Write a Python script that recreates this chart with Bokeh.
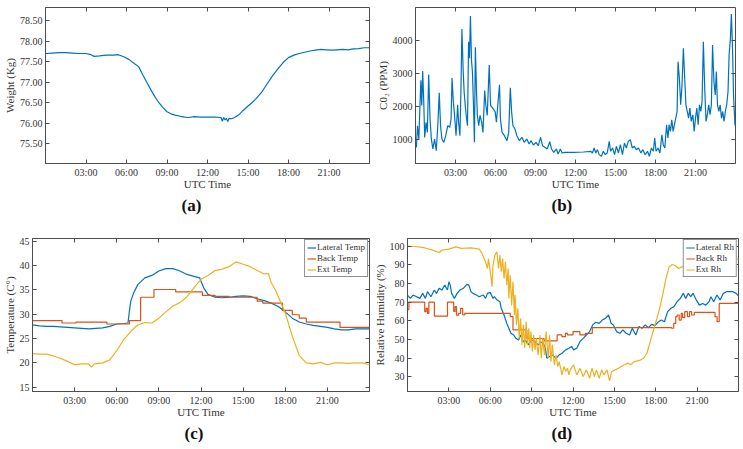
from bokeh.plotting import figure
from bokeh.models import (FixedTicker, Range1d, Title, Legend, LegendItem, NumeralTickFormatter,
                          LinearAxis, CustomJSTickFormatter)
from bokeh.layouts import column, row
from bokeh.embed import file_html
from bokeh.resources import INLINE

FONT = "Liberation Serif"
TXT = "#333333"
EDGE = "#4d4d4d"
BLUE = "#0072BD"
RED = "#D95319"
YEL = "#EDB120"

hour_ticks = [3, 6, 9, 12, 15, 18, 21]
hour_labels = ["03:00", "06:00", "09:00", "12:00", "15:00", "18:00", "21:00"]

# (a) weight
w_h = [0, 0.5, 1, 1.5, 2, 2.5, 3, 3.3, 3.6, 4,
       4.5, 5, 5.4, 5.8, 6.2, 6.6, 6.9, 7.2, 7.5, 7.8,
       8.1, 8.4, 8.7, 9.0, 9.3, 9.6, 10, 10.3, 10.6, 11,
       11.5, 12, 12.5, 13.0, 13.1, 13.2, 13.3, 13.4, 13.5, 13.6,
       13.8, 14.0, 14.3, 14.6, 15, 15.3, 15.6, 16, 16.4, 16.8,
       17.2, 17.6, 18, 18.4, 18.8, 19.2, 19.6, 20, 20.4, 20.8,
       21.2, 21.6, 22, 22.4, 22.8, 23.2, 23.6, 24]
w_v = [77.70, 77.71, 77.72, 77.72, 77.71, 77.70, 77.70, 77.68, 77.63, 77.64,
       77.66, 77.66, 77.67, 77.62, 77.55, 77.45, 77.38, 77.18, 77.00, 76.82,
       76.65, 76.50, 76.38, 76.28, 76.23, 76.20, 76.17, 76.15, 76.14, 76.16,
       76.15, 76.15, 76.15, 76.14, 76.05, 76.14, 76.08, 76.12, 76.04, 76.12,
       76.11, 76.14, 76.20, 76.30, 76.42, 76.50, 76.60, 76.75, 76.95, 77.15,
       77.32, 77.48, 77.60, 77.66, 77.70, 77.73, 77.76, 77.78, 77.80, 77.79,
       77.78, 77.79, 77.80, 77.79, 77.81, 77.82, 77.84, 77.84]

# (b) CO2
co2_h = [0.0, 0.07, 0.15, 0.25, 0.4, 0.47, 0.54, 0.62, 0.69, 0.79,
         0.89, 0.99, 1.09, 1.19, 1.3, 1.43, 1.56, 1.68, 1.78, 1.88,
         1.98, 2.12, 2.27, 2.42, 2.57, 2.67, 2.74, 2.84, 2.91, 3.04,
         3.16, 3.23, 3.33, 3.41, 3.48, 3.58, 3.65, 3.73, 3.83, 3.9,
         3.98, 4.05, 4.12, 4.2, 4.27, 4.35, 4.42, 4.49, 4.57, 4.64,
         4.74, 4.84, 4.96, 5.06, 5.19, 5.28, 5.38, 5.53, 5.63, 5.73,
         5.83, 5.98, 6.07, 6.17, 6.3, 6.37, 6.49, 6.67, 6.86, 6.99,
         7.11, 7.21, 7.31, 7.46, 7.6, 7.8, 7.98, 8.15, 8.35, 8.52,
         8.67, 8.84, 9.04, 9.21, 9.38, 9.53, 9.7, 9.88, 10.07, 10.2,
         10.37, 10.57, 10.69, 10.86, 11.0, 11.2, 11.9, 12.6, 13.15, 13.27,
         13.4, 13.52, 13.64, 13.77, 13.94, 14.09, 14.23, 14.38, 14.53, 14.63,
         14.78, 14.93, 15.07, 15.22, 15.37, 15.52, 15.67, 15.81, 15.96, 16.11,
         16.26, 16.41, 16.56, 16.73, 16.9, 17.05, 17.22, 17.4, 17.54, 17.69,
         17.84, 17.94, 18.04, 18.19, 18.33, 18.48, 18.58, 18.7, 18.83, 18.93,
         19.02, 19.12, 19.22, 19.32, 19.42, 19.52, 19.62, 19.69, 19.79, 19.89,
         19.99, 20.09, 20.19, 20.28, 20.38, 20.48, 20.58, 20.68, 20.8, 20.9,
         21.0, 21.1, 21.2, 21.3, 21.4, 21.49, 21.59, 21.69, 21.79, 21.89,
         21.99, 22.09, 22.19, 22.28, 22.38, 22.48, 22.56, 22.65, 22.75, 22.85,
         22.95, 23.04, 23.14, 23.24, 23.34, 23.44, 23.52, 23.62, 23.69, 23.77,
         23.86, 23.96, 24.0]
co2_v = [800, 770, 1420, 1020, 2790, 2030, 3070, 2130, 1070, 1520,
         1220, 2960, 1630, 1020, 720, 1020, 670, 1480, 2410, 1420,
         1020, 920, 1120, 1420, 1370, 1630, 2860, 2130, 1830, 1120,
         2050, 1530, 1120, 2530, 4330, 3040, 2430, 2030, 1630, 1420,
         3950, 3450, 4720, 3400, 3040, 2030, 920, 3780, 2530, 1730,
         1420, 1730, 1530, 1220, 2480, 2030, 1730, 3250, 2030, 1980,
         1930, 1830, 1530, 2030, 2650, 1630, 1220, 1120, 970, 1220,
         2560, 1830, 1420, 1320, 1120, 970, 1070, 920, 1020, 870,
         970, 840, 920, 820, 1070, 820, 770, 720, 940, 720,
         620, 720, 570, 720, 600, 620, 620, 630, 650, 600,
         750, 600, 700, 550, 500, 650, 550, 600, 950, 650,
         750, 550, 800, 600, 850, 550, 900, 750, 950, 1000,
         750, 800, 700, 750, 600, 700, 550, 650, 500, 750,
         650, 1050, 650, 750, 600, 1150, 850, 750, 1450, 1050,
         1450, 1250, 1600, 1250, 1450, 1650, 1850, 3350, 2850, 2050,
         2650, 3750, 2850, 2050, 1850, 1650, 1950, 1550, 1750, 1250,
         1650, 1950, 1450, 2050, 1850, 2150, 3950, 2550, 1550, 1750,
         2050, 1750, 2050, 3850, 2750, 2350, 3050, 2050, 1850, 2050,
         1650, 1850, 1550, 1850, 2050, 2450, 3550, 4050, 4780, 3850,
         2250, 1450, 1400]

# (c) temperatures
lat_t_h = [0, 0.5, 1, 1.5, 2, 2.5, 3, 3.5, 4, 4.5, 5, 5.5, 6,
           6.5, 6.8, 6.9, 7.0, 7.2, 7.5,
           8.0, 8.5, 9.0, 9.5, 10.0, 10.5, 11.0, 11.5, 11.9,
           12.2, 12.5, 13.0, 13.5, 14.0, 14.5, 15.0, 15.5, 16.0, 16.5, 17.0, 17.5, 18.0,
           18.5, 19.0, 19.5, 20.0, 20.5, 21.0, 21.5, 22.0, 22.5, 23.0, 23.5, 24]
lat_t_v = [27.8, 27.6, 27.5, 27.5, 27.4, 27.3, 27.2, 27.1, 27.0, 27.1, 27.2, 27.5, 28.0,
           28.1, 28.2, 30.6, 32.7, 34.4, 36.1,
           37.5, 38.0, 38.9, 39.4, 39.4, 38.9, 38.2, 37.8, 37.5,
           35.4, 34.1, 33.5, 33.4, 33.5, 33.7, 33.8, 33.7, 33.2, 32.8, 32.3, 31.6, 30.5,
           29.2, 28.4, 28.0, 27.7, 27.5, 27.3, 27.0, 26.8, 26.8, 27.0, 27.0, 27.0]
back_t_h = [0, 2.1, 3.1, 5.3, 6.9, 7.7, 8.65, 10.2, 12.1, 13.0,
            14.0, 16.0, 16.4, 17.8, 18.5, 19.0, 19.5, 21.9, 24]
back_t_v = [28.7, 28.2, 28.4, 28.0, 28.7, 33.5, 35.1, 34.6, 33.9, 33.7,
            33.5, 32.7, 32.3, 30.8, 29.9, 29.2, 28.4, 27.3, 27.3]
ext_t_h = [0, 0.5, 1, 1.5, 2, 2.5, 3, 3.5, 4, 4.2,
           4.4, 5, 5.5, 6, 6.5, 7, 7.5, 8, 8.5, 9,
           9.5, 10, 10.5, 11, 11.5, 12, 12.5, 13, 13.5, 14,
           14.5, 15, 15.5, 16, 16.5, 16.8, 17.0, 17.3, 17.6, 18,
           18.5, 19, 19.5, 20, 20.5, 21, 21.5, 22, 22.5, 23,
           23.5, 24]
ext_t_v = [21.9, 21.8, 21.8, 21.4, 20.9, 20.3, 19.6, 19.8, 19.8, 19.1,
           19.8, 20.0, 20.6, 22.5, 24.8, 26.5, 27.8, 28.3, 28.2, 29.2,
           30.5, 31.7, 32.4, 33.6, 35.5, 37.2, 38.0, 39.0, 39.3, 39.8,
           40.8, 40.3, 39.8, 39.0, 38.3, 38.4, 36.5, 35.0, 33.0, 30.3,
           25.5, 21.5, 20.0, 19.8, 20.1, 19.6, 20.0, 20.0, 19.9, 20.0,
           20.0, 19.6]

# (d) relative humidity
lat_rh_h = [0, 0.2, 0.4, 0.9, 1.1, 1.3, 1.45, 1.7, 1.94, 2.1,
            2.3, 2.5, 2.7, 2.9, 3.0, 3.1, 3.2, 3.4, 3.6, 3.8,
            4.05, 4.3, 4.45, 4.6, 4.75, 5.0, 5.2, 5.5, 5.66, 5.8,
            6.0, 6.2, 6.3, 6.5, 6.7, 6.8, 7.0, 7.2, 7.35, 7.5,
            7.7, 7.86, 8.05, 8.2, 8.4, 8.55, 8.75, 8.9, 9.1, 9.25,
            9.47, 9.6, 9.8, 10.0, 10.1, 10.3, 10.5, 10.77, 11.0, 11.2,
            11.47, 11.7, 11.9, 12.04, 12.27, 12.5, 12.74, 12.97, 13.2, 13.43,
            13.66, 13.9, 14.12, 14.35, 14.58, 14.77, 14.93, 15.16, 15.4, 15.62,
            15.85, 16.1, 16.3, 16.55, 16.78, 17.0, 17.24, 17.47, 17.7, 17.93,
            18.16, 18.4, 18.63, 18.86, 19.1, 19.32, 19.55, 19.78, 20.0, 20.17,
            20.36, 20.54, 20.7, 20.94, 21.17, 21.4, 21.63, 21.86, 22.0, 22.2,
            22.44, 22.67, 22.9, 23.13, 23.6, 23.83, 24]
lat_rh_v = [73.8, 72, 73.8, 72, 74.7, 72, 75.6, 72.9, 76.5, 74.7,
            77.4, 76.5, 79.1, 76.5, 80.9, 79.1, 74.7, 72, 74.7, 76.5,
            77.4, 79.5, 79.1, 75.6, 74.7, 73.8, 72.9, 73.8, 72, 74.7,
            75.2, 72, 72.9, 71.1, 70.2, 66.7, 63.1, 58.6, 56, 53.3,
            52.4, 50.6, 49.7, 52.4, 48.8, 49.7, 47.1, 48.8, 49.7, 48.8,
            47.1, 48, 48.8, 45.3, 39.9, 40.8, 41.7, 39.9, 41.7, 42.6,
            44.4, 45.3, 46.2, 44.4, 45.3, 48.8, 50.6, 52.4, 54.2, 57.8,
            59.2, 58.6, 60.4, 61.3, 63.1, 58.6, 57.8, 54.2, 53.3, 55.1,
            53.3, 52.4, 56, 52.4, 56.9, 56, 57.8, 56.3, 58.1, 57.4,
            59.2, 60.4, 59.5, 64.9, 66.7, 67.6, 70.2, 72, 74.7, 72,
            74.7, 72.9, 74.7, 71.1, 68.4, 69.3, 68.4, 70.2, 72.9, 70.2,
            73.8, 71.1, 74.7, 75.6, 75.6, 74.7, 73.3]
back_rh_h = [0, 0.1, 1.25, 1.35, 1.45, 1.55, 1.95, 2.9, 3.35, 3.45,
             3.55, 3.7, 3.85, 4.0, 4.15, 7.45, 7.65, 8.65, 9.9, 10.85,
             11.2, 11.45, 11.6, 12.0, 12.5, 12.9, 13.4, 19.15, 19.3, 19.45,
             19.55, 19.7, 19.85, 19.95, 20.1, 20.3, 20.45, 20.6, 20.8, 22.3,
             22.45, 22.6, 24]
back_rh_v = [66, 70, 64.9, 66.7, 64, 70, 62.5, 70, 65, 67.6,
             63, 64, 66.7, 63.1, 64, 62.2, 55.1, 50.5, 49.2, 52.4,
             51.5, 53.3, 52.4, 54.2, 52.4, 53.3, 56.3, 56, 58.6, 62.2,
             63.1, 60.4, 64, 61.7, 64.9, 62.2, 64.9, 63.1, 64.5, 62.2,
             59.5, 69.3, 69.3]
ext_rh_h = [0, 0.5, 1.1, 1.5, 1.8, 2.3, 2.5, 3.0, 3.5, 3.9,
            4.6, 5.2, 5.4, 5.66, 5.8, 5.87, 6.0, 6.13, 6.2, 6.34,
            6.48, 6.6, 6.7, 6.8, 6.9, 7.0, 7.1, 7.2, 7.3, 7.35,
            7.45, 7.55, 7.65, 7.75, 7.8, 7.9, 8.0, 8.1, 8.2, 8.3,
            8.4, 8.5, 8.6, 8.7, 8.8, 8.86, 8.95, 9.05, 9.15, 9.25,
            9.34, 9.47, 9.6, 9.7, 9.8, 9.93, 10.05, 10.2, 10.3, 10.4,
            10.5, 10.65, 10.77, 10.9, 11.0, 11.1, 11.2, 11.35, 11.47, 11.6,
            11.7, 11.8, 12.04, 12.27, 12.5, 12.74, 12.97, 13.2, 13.38, 13.55,
            13.7, 13.9, 14.08, 14.24, 14.47, 14.65, 14.8, 15.05, 15.28, 15.5,
            15.74, 15.97, 16.2, 16.43, 16.66, 16.9, 17.12, 17.36, 17.6, 17.8,
            18.05, 18.28, 18.5, 18.74, 18.97, 19.2, 19.43, 19.66, 19.9, 20.3,
            20.8, 21.3, 22, 22.7, 23.4, 24]
ext_rh_v = [100, 99.8, 99.3, 98.6, 97.9, 96.6, 97.9, 98.4, 99.6, 98.8,
            99.1, 98.4, 96.1, 91.6, 88, 93.4, 86.3, 78.3, 89.8, 95.2,
            97, 88, 95.2, 86.3, 93.4, 82.7, 91.6, 79.1, 88, 72,
            84.5, 68.4, 80.9, 63.1, 73.8, 57.8, 66.7, 50.6, 61.3, 47.1,
            57.8, 45.3, 59.5, 47.1, 56, 45.3, 54.2, 43.5, 52.4, 44.4,
            50.6, 41.7, 52.4, 39.9, 50.6, 41.7, 54.2, 39.9, 52.4, 38.1,
            47.1, 36.4, 41.7, 35.5, 38.1, 34.6, 31, 35.5, 32.8, 34.6,
            31, 33.7, 36.4, 31, 34.6, 30.1, 33.7, 29.2, 34.6, 30.1,
            33.7, 29.2, 33.7, 31, 33.7, 27.8, 32.8, 33.7, 34.6, 35.5,
            36.4, 37.3, 36.4, 38.1, 38.5, 39, 39.9, 42.6, 48.8, 54.2,
            60.4, 66.7, 73.8, 82.7, 88.9, 90.2, 89.5, 88, 88.9, 89.5,
            90.5, 91, 92, 92.5, 93, 93]


def mirror_axis(ticks):
    return LinearAxis(ticker=FixedTicker(ticks=ticks),
                      formatter=CustomJSTickFormatter(code="return ''"),
                      major_tick_in=4, major_tick_out=0,
                      major_tick_line_color=EDGE, minor_tick_line_color=None,
                      axis_line_color=None, major_label_standoff=0,
                      major_label_text_font_size="1px")


def make_fig(fw, fh, bl, br, bt, bb, yr, yticks, ylabel, fmt, letter, letter_off):
    p = figure(frame_width=fw, frame_height=fh,
               min_border_left=bl, min_border_right=br,
               min_border_top=bt, min_border_bottom=bb,
               x_range=Range1d(0, 24), y_range=Range1d(*yr),
               output_backend="svg", toolbar_location=None)
    p.xgrid.visible = False
    p.ygrid.visible = False
    p.outline_line_color = EDGE
    p.outline_line_alpha = 1.0
    p.outline_line_width = 1
    p.background_fill_color = "white"
    p.border_fill_color = "white"
    for ax in (p.xaxis[0], p.yaxis[0]):
        ax.axis_line_color = EDGE
        ax.major_tick_line_color = EDGE
        ax.major_tick_in = 4
        ax.major_tick_out = 0
        ax.minor_tick_line_color = None
        ax.major_label_text_font = FONT
        ax.major_label_text_font_size = "10px"
        ax.major_label_text_color = TXT
        ax.axis_label_text_font = FONT
        ax.axis_label_text_font_size = "11px"
        ax.axis_label_text_font_style = "normal"
        ax.axis_label_text_color = TXT
        ax.major_label_standoff = 3
    p.xaxis[0].axis_label_standoff = -3
    p.yaxis[0].axis_label_standoff = 1
    p.xaxis[0].ticker = FixedTicker(ticks=hour_ticks)
    p.xaxis[0].major_label_overrides = {t: s for t, s in zip(hour_ticks, hour_labels)}
    p.xaxis[0].axis_label = "UTC Time"
    p.yaxis[0].ticker = FixedTicker(ticks=yticks)
    p.yaxis[0].formatter = NumeralTickFormatter(format=fmt)
    p.yaxis[0].axis_label = ylabel
    p.add_layout(mirror_axis(hour_ticks), "above")
    p.add_layout(mirror_axis(yticks), "right")
    p.add_layout(Title(text=letter, align="left", offset=letter_off,
                       text_font=FONT, text_font_size="17px",
                       text_font_style="bold", text_color="#111111",
                       standoff=2), "below")
    return p


def make_legend(p, items):
    lg = Legend(items=[LegendItem(label=l, renderers=[r]) for l, r in items],
                location="top_right")
    lg.border_line_color = "#222222"
    lg.border_line_width = 1
    lg.background_fill_color = "white"
    lg.background_fill_alpha = 1.0
    lg.label_text_font = FONT
    lg.label_text_font_size = "9px"
    lg.label_text_color = TXT
    lg.glyph_width = 9
    lg.glyph_height = 9
    lg.label_height = 9
    lg.label_standoff = 1
    lg.spacing = 1
    lg.padding = 2
    lg.margin = 1
    p.add_layout(lg)


LW = 1.2

pa = make_fig(324, 156, 36, 3, 7, 62, (75.02, 78.82),
              [75.5, 76.0, 76.5, 77.0, 77.5, 78.0, 78.5], "Weight (Kg)", "0.00", "(a)", 136)
pa.line(w_h, w_v, line_color=BLUE, line_width=LW)

pb = make_fig(320, 156, 43, 1, 7, 62, (283, 4980),
              [1000, 2000, 3000, 4000], "C0\u2082 (PPM)", "0", "(b)", 136)
pb.line(co2_h, co2_v, line_color=BLUE, line_width=LW)

pc = make_fig(337, 153, 24, 1, 13, 50, (14.1, 45.6),
              [15, 20, 25, 30, 35, 40, 45], "Temperature (C\u00b0)", "0", "(c)", 152)
r1 = pc.line(lat_t_h, lat_t_v, line_color=BLUE, line_width=LW)
r2 = pc.step(back_t_h, back_t_v, mode="after", line_color=RED, line_width=LW)
r3 = pc.line(ext_t_h, ext_t_v, line_color=YEL, line_width=LW)
make_legend(pc, [("Lateral Temp", r1), ("Back Temp", r2), ("Ext Temp", r3)])

pd = make_fig(331, 153, 34, 1, 13, 50, (22.1, 104.1),
              [30, 40, 50, 60, 70, 80, 90, 100], "Relative Humidity (%)", "0", "(d)", 144)
s1 = pd.line(lat_rh_h, lat_rh_v, line_color=BLUE, line_width=LW)
s2 = pd.step(back_rh_h, back_rh_v, mode="after", line_color=RED, line_width=LW)
s3 = pd.line(ext_rh_h, ext_rh_v, line_color=YEL, line_width=LW)
make_legend(pd, [("Lateral Rh", s1), ("Back Rh", s2), ("Ext Rh", s3)])

layout = column(row(pa, pb), row(pc, pd))
open("out.html", "w").write(file_html(layout, INLINE))
